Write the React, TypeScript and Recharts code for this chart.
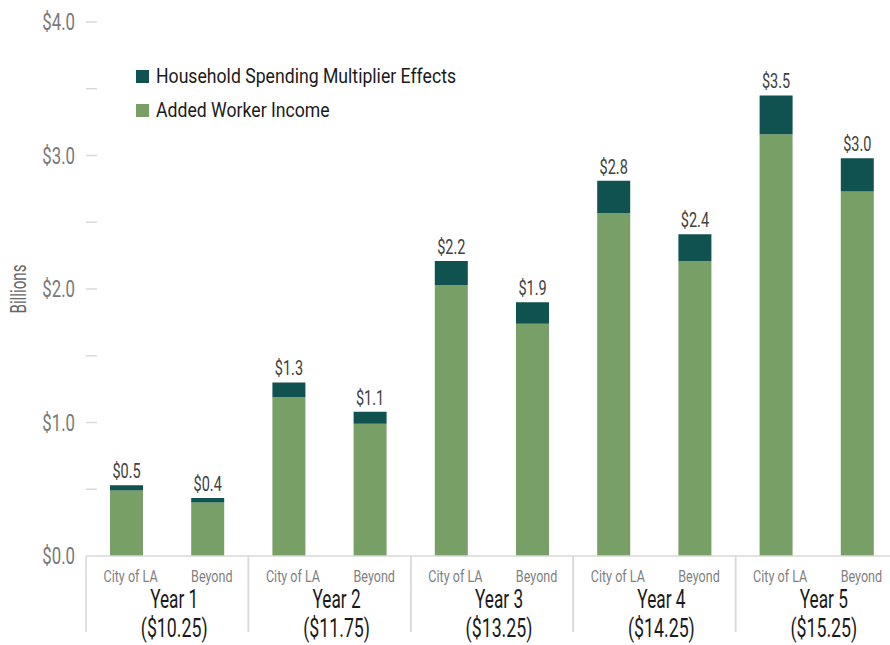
import React from 'react';
import {
  BarChart,
  Bar,
  XAxis,
  YAxis,
  Legend,
  LabelList,
} from 'recharts';

// sub-category under each bar, and the year group each pair belongs to
const categories = ['City of LA', 'Beyond', 'City of LA', 'Beyond', 'City of LA', 'Beyond', 'City of LA', 'Beyond', 'City of LA', 'Beyond'];
const years = ['Year 1', 'Year 2', 'Year 3', 'Year 4', 'Year 5'];
const wages = ['($10.25)', '($11.75)', '($13.25)', '($14.25)', '($15.25)'];

// billions of dollars
const workerIncome = [0.49, 0.40, 1.19, 0.99, 2.03, 1.74, 2.57, 2.21, 3.16, 2.73];
const multiplier = [0.04, 0.035, 0.11, 0.09, 0.18, 0.16, 0.24, 0.20, 0.29, 0.25];
const totalLabels = ['$0.5', '$0.4', '$1.3', '$1.1', '$2.2', '$1.9', '$2.8', '$2.4', '$3.5', '$3.0'];

const yTicks = [0, 0.5, 1, 1.5, 2, 2.5, 3, 3.5, 4];

const FONT = 'Roboto, sans-serif';
const GREEN = '#789f66';
const TEAL = '#10524f';
const RULE = '#d9d9d9';

const data = categories.map((sub, i) => ({
  sub,
  income: workerIncome[i],
  mult: multiplier[i],
  label: totalLabels[i],
}));

// no condensed face is installed, so squeeze Roboto horizontally
const NText = ({ x, y, size, fill, anchor = 'middle', sx = 0.72, children }: any) => (
  <text
    transform={`translate(${x},${y}) scale(${sx},1)`}
    textAnchor={anchor}
    fill={fill}
    fontSize={size}
    fontFamily={FONT}
  >
    {children}
  </text>
);

const YTick = ({ x, y, payload }: any) => {
  const v = payload.value as number;
  const major = Number.isInteger(v);
  return (
    <g>
      {v > 0 && <line x1={x} x2={x + 11} y1={y} y2={y} stroke={RULE} strokeWidth={1.5} />}
      {major && (
        <NText x={x - 11} y={y + 8} anchor="end" size={24} fill="#7a7a7a" sx={0.7}>
          ${v.toFixed(1)}
        </NText>
      )}
    </g>
  );
};

const XTick = ({ x, y, payload }: any) => {
  const i = payload.index as number;
  const half = payload.offset || 40.6;
  const first = i % 2 === 0;
  const g = Math.floor(i / 2);
  return (
    <g>
      <NText x={x + 4} y={y + 26} size={17} fill="#7f7f7f" sx={0.74}>
        {payload.value}
      </NText>
      {first && (
        <>
          <line x1={x - half} x2={x - half} y1={y} y2={y + 76} stroke={RULE} strokeWidth={1.5} />
          <line x1={x + 3 * half} x2={x + 3 * half} y1={y} y2={y + 76} stroke={RULE} strokeWidth={1.5} />
          <NText x={x + half + 7} y={y + 52} size={25} fill="#1a1a1a" sx={0.69}>
            {years[g]}
          </NText>
          <NText x={x + half + 7} y={y + 81} size={25} fill="#1a1a1a" sx={0.71}>
            {wages[g]}
          </NText>
        </>
      )}
    </g>
  );
};

const TopLabel = ({ x, y, width, value }: any) => (
  <NText x={x + width / 2} y={y - 7} size={21} fill="#404040" sx={0.69}>
    {value}
  </NText>
);

const LegendBox = () => (
  <div style={{ fontFamily: FONT, fontSize: 21, color: '#1a1a1a' }}>
    {[
      { name: 'Household Spending Multiplier Effects', color: TEAL },
      { name: 'Added Worker Income', color: GREEN },
    ].map((it) => (
      <div key={it.name} style={{ display: 'flex', alignItems: 'center', height: 34 }}>
        <span style={{ width: 13, height: 13, background: it.color, marginRight: 7, display: 'inline-block', flex: 'none' }} />
        <span style={{ display: 'inline-block', transform: 'scale(0.84,1)', transformOrigin: 'left center', whiteSpace: 'nowrap' }}>
          {it.name}
        </span>
      </div>
    ))}
  </div>
);

const YLabel = ({ viewBox }: any) => {
  const cy = viewBox.y + viewBox.height / 2;
  return (
    <text
      transform={`translate(26,${cy}) rotate(-90) scale(0.69,1)`}
      textAnchor="middle"
      fill="#666"
      fontSize={22}
      fontFamily={FONT}
    >
      Billions
    </text>
  );
};

export default function App() {
  return (
    <div style={{ position: 'absolute', left: 0, top: 0, width: 890, height: 645, overflow: 'hidden', background: '#fff' }}>
      <BarChart width={898} height={645} data={data} margin={{ top: 22, right: 0, left: 0, bottom: 0 }} barSize={33}>
        <XAxis
          dataKey="sub"
          height={89}
          tick={<XTick />}
          tickLine={false}
          tickSize={0}
          tickMargin={0}
          interval={0}
          axisLine={{ stroke: RULE, strokeWidth: 1.5 }}
        />
        <YAxis
          width={86}
          domain={[0, 4]}
          ticks={yTicks}
          tick={<YTick />}
          tickLine={false}
          tickSize={0}
          tickMargin={0}
          axisLine={false}
          interval={0}
          label={<YLabel />}
        />
        <Legend
          content={<LegendBox />}
          layout="horizontal"
          verticalAlign="middle"
          align="center"
          wrapperStyle={{ top: 59, left: 136, width: 420 }}
        />
        <Bar dataKey="income" stackId="a" fill={GREEN} isAnimationActive={false} />
        <Bar dataKey="mult" stackId="a" fill={TEAL} isAnimationActive={false}>
          <LabelList dataKey="label" position="top" content={<TopLabel />} />
        </Bar>
      </BarChart>
    </div>
  );
}
